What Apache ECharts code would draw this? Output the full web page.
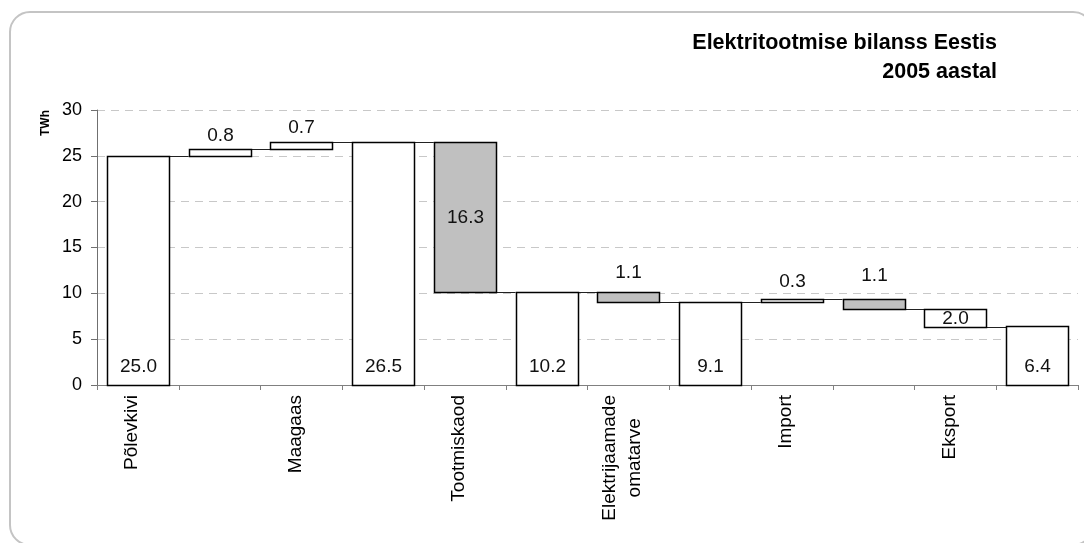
<!DOCTYPE html>
<html>
<head>
<meta charset="utf-8">
<script src="https://cdn.jsdelivr.net/npm/echarts@6/dist/echarts.min.js"></script>
<style>
  html, body { margin: 0; padding: 0; background: #fff; }
  #chart { width: 1084px; height: 543px; }
</style>
</head>
<body>
<div id="chart"></div>
<script>
// Electricity balance of Estonia, 2005 (TWh) — waterfall steps
const categories = ['Põlevkivi', '', 'Maagaas', '', 'Tootmiskaod', '', 'Elektrijaamade\nomatarve', '', 'Import', '', 'Eksport', ''];
const values = [25.0, 0.8, 0.7, 26.5, 16.3, 10.2, 1.1, 9.1, 0.3, 1.1, 2.0, 6.4];
// 'total' starts at zero, 'up' adds to the running level, 'down' subtracts from it
const kinds = ['total', 'up', 'up', 'total', 'down', 'total', 'down', 'total', 'up', 'down', 'down', 'total'];
const shaded = [false, false, false, false, true, false, true, false, false, true, false, false];
const yMin = 0, yMax = 30, yStep = 5;
const titleText = 'Elektritootmise bilanss Eestis\n2005 aastal';
const unitText = 'TWh';

// Label placement for each step
const labelPlace = ['insideBottom', 'top', 'top', 'insideBottom', 'inside', 'insideBottom', 'top', 'insideBottom', 'top', 'top', 'inside', 'insideBottom'];
const labelGap = [10, 3, 4, 10, 0, 10, 9, 10, 7, 13, 0, 10];

// Running levels -> [index, low, high, value]
let level = 0;
const spans = values.map((v, i) => {
  let lo, hi;
  if (kinds[i] === 'total') { lo = 0; hi = v; level = v; }
  else if (kinds[i] === 'up') { lo = level; hi = +(level + v).toFixed(2); level = hi; }
  else { hi = level; lo = +(level - v).toFixed(2); level = lo; }
  return [i, lo, hi, v];
});
// Connector from the end level of step i to step i+1
const connectors = spans.slice(0, -1).map((s, i) => [i, kinds[i] === 'down' ? s[1] : s[2]]);

const FONT = '"Liberation Sans", Arial, sans-serif';
const BAR_RATIO = 0.76;

const chart = echarts.init(document.getElementById('chart'), null, { renderer: 'canvas' });

chart.setOption({
  animation: false,
  backgroundColor: '#fff',
  graphic: [
    {
      type: 'rect',
      shape: { x: 10, y: 12, width: 1083, height: 533, r: 20 },
      style: { fill: 'none', stroke: '#c4c4c4', lineWidth: 2 },
      silent: true, z: -1
    },
    {
      type: 'text',
      x: 997, y: 29,
      style: {
        text: titleText, font: 'bold 21.5px ' + FONT, fill: '#000',
        align: 'right', verticalAlign: 'top', lineHeight: 29
      },
      silent: true
    },
    {
      type: 'text',
      x: 46, y: 123, rotation: Math.PI / 2,
      style: { text: unitText, font: 'bold 12px ' + FONT, fill: '#000', align: 'center', verticalAlign: 'middle' },
      silent: true
    }
  ],
  grid: { left: 97, right: 6, top: 110, bottom: 158, containLabel: false },
  xAxis: {
    type: 'category',
    data: categories,
    boundaryGap: true,
    axisLine: { show: true, lineStyle: { color: '#808080', width: 1 } },
    axisTick: { show: true, interval: 0, length: 5, lineStyle: { color: '#808080' } },
    axisLabel: {
      interval: 0,
      rotate: 90,
      margin: 10,
      padding: [0, 0, 12, 0],
      fontFamily: FONT,
      fontSize: 19,
      color: '#000',
      formatter: (v) => v.indexOf('\n') >= 0 ? v.split('\n').map(s => '{c|' + s + '}').join('\n') : v,
      rich: { c: { align: 'center', fontFamily: FONT, fontSize: 19, color: '#000', lineHeight: 25 } }
    },
    splitLine: { show: false }
  },
  yAxis: {
    type: 'value',
    min: yMin, max: yMax, interval: yStep,
    axisLine: { show: true, lineStyle: { color: '#707070', width: 1 } },
    axisTick: { show: true, length: 6, lineStyle: { color: '#707070' } },
    axisLabel: { margin: 15, fontFamily: FONT, fontSize: 18, color: '#000' },
    splitLine: { show: true, lineStyle: { color: '#c8c8c8', type: [8, 6], width: 1 } }
  },
  series: [
    {
      type: 'custom',
      name: 'connectors',
      data: connectors,
      encode: { x: 0, y: 1 },
      z: 1,
      renderItem: (params, api) => {
        const i = api.value(0);
        const w = api.size([1, 0])[0] * BAR_RATIO;
        const a = api.coord([i, api.value(1)]);
        const b = api.coord([i + 1, api.value(1)]);
        return {
          type: 'line',
          shape: { x1: a[0] + w / 2, y1: Math.round(a[1]) + 0.5, x2: b[0] - w / 2, y2: Math.round(a[1]) + 0.5 },
          style: { stroke: '#222', lineWidth: 1 }
        };
      }
    },
    {
      type: 'custom',
      name: 'steps',
      data: spans,
      encode: { x: 0, y: [1, 2] },
      z: 2,
      renderItem: (params, api) => {
        const i = api.value(0);
        const lo = api.coord([i, api.value(1)]);
        const hi = api.coord([i, api.value(2)]);
        const w = api.size([1, 0])[0] * BAR_RATIO;
        const x = Math.round(lo[0] - w / 2) + 0.5;
        const yTop = Math.round(hi[1]) + 0.5;
        const yBot = Math.round(lo[1]) + 0.5;
        return {
          type: 'rect',
          shape: { x: x, y: yTop, width: Math.round(w), height: yBot - yTop },
          style: { fill: shaded[i] ? '#c0c0c0' : '#ffffff', stroke: '#000', lineWidth: 1.5 },
          textContent: {
            style: {
              text: api.value(3).toFixed(1),
              font: '19px ' + FONT,
              fill: '#111'
            }
          },
          textConfig: { position: labelPlace[i], distance: labelGap[i], inside: labelPlace[i] !== 'top' }
        };
      }
    }
  ]
});
</script>
</body>
</html>
